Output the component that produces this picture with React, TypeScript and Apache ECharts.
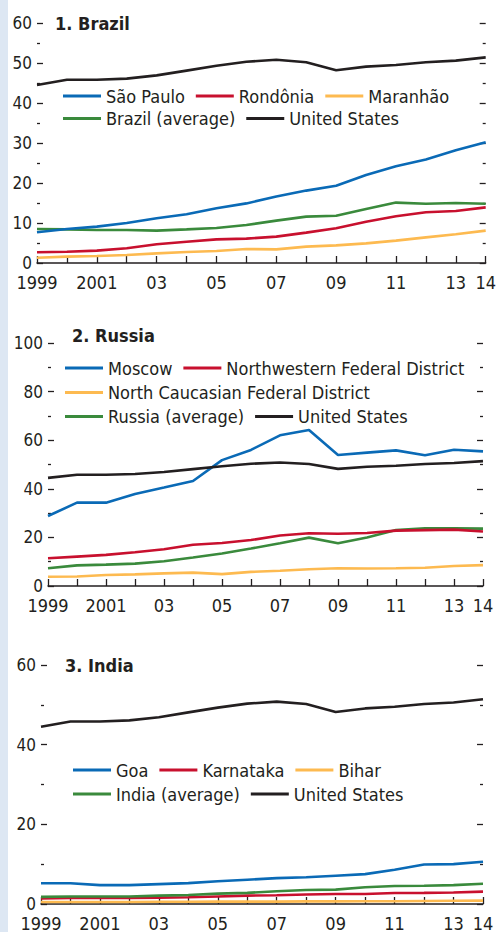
import React, { useEffect, useRef } from 'react';
import * as echarts from 'echarts';

const years = ['1999', '2000', '2001', '2002', '2003', '2004', '2005', '2006', '2007', '2008', '2009', '2010', '2011', '2012', '2013', '2014'];

const unitedStates = [44.5, 45.8, 45.8, 46.1, 46.9, 48.1, 49.3, 50.3, 50.8, 50.2, 48.2, 49.1, 49.5, 50.2, 50.6, 51.4];

const saoPaulo = [7.7, 8.5, 9.1, 10.0, 11.2, 12.2, 13.7, 14.9, 16.6, 18.1, 19.3, 22.0, 24.2, 25.9, 28.2, 30.2];
const rondonia = [2.7, 2.8, 3.1, 3.7, 4.7, 5.3, 5.9, 6.1, 6.6, 7.6, 8.7, 10.3, 11.7, 12.7, 13.0, 13.9];
const maranhao = [1.3, 1.6, 1.75, 2.0, 2.4, 2.75, 3.0, 3.5, 3.4, 4.1, 4.4, 4.9, 5.6, 6.4, 7.2, 8.1];
const brazilAvg = [8.5, 8.4, 8.25, 8.25, 8.1, 8.4, 8.75, 9.5, 10.6, 11.6, 11.8, 13.5, 15.1, 14.8, 15.0, 14.8];

const moscow = [28.8, 34.3, 34.3, 37.9, 40.5, 43.2, 51.8, 56.0, 62.0, 64.2, 53.9, 54.9, 55.8, 53.8, 56.1, 55.4];
const northwestern = [11.4, 12.1, 12.8, 13.9, 15.1, 17.0, 17.7, 18.9, 20.8, 21.7, 21.5, 21.8, 22.8, 23.0, 23.2, 22.4];
const northCaucasian = [3.8, 3.9, 4.5, 4.8, 5.2, 5.5, 4.9, 5.8, 6.3, 6.9, 7.3, 7.2, 7.3, 7.5, 8.2, 8.6];
const russiaAvg = [7.3, 8.5, 8.8, 9.2, 10.2, 11.7, 13.4, 15.4, 17.6, 19.9, 17.6, 20.0, 23.0, 23.7, 23.7, 23.6];

const goa = [5.2, 5.2, 4.75, 4.75, 5.0, 5.25, 5.7, 6.1, 6.5, 6.7, 7.1, 7.5, 8.6, 9.9, 10.0, 10.6];
const karnataka = [1.4, 1.5, 1.5, 1.5, 1.6, 1.7, 1.9, 2.1, 2.2, 2.4, 2.5, 2.5, 2.75, 2.8, 2.9, 3.1];
const bihar = [0.5, 0.5, 0.5, 0.5, 0.55, 0.55, 0.6, 0.6, 0.6, 0.65, 0.65, 0.7, 0.7, 0.75, 0.8, 0.85];
const indiaAvg = [1.8, 1.9, 1.9, 1.9, 2.1, 2.25, 2.6, 2.8, 3.2, 3.5, 3.6, 4.2, 4.5, 4.6, 4.75, 5.1];

const panelTitles = ['1. Brazil', '2. Russia', '3. India'];
const yMax = [60, 100, 60];
const yInterval = [10, 20, 20];

const COLORS = {
  blue: '#0a6ab6',
  red: '#c8102e',
  yellow: '#fdba50',
  green: '#3a8a3c',
  black: '#231f20',
};
const FONT = "'Liberation Sans Narrow', 'Arial Narrow', 'DejaVu Sans Condensed', sans-serif";
const TEXT = '#231f20';

export default function App() {
  const ref = useRef<HTMLDivElement>(null);
  useEffect(() => {
    document.body.style.margin = '0';
    const chart = echarts.init(ref.current!, undefined, { renderer: 'svg' });

    const grids = [
      { left: 37, top: 23, width: 451, height: 240 },
      { left: 48, top: 343, width: 435, height: 243 },
      { left: 41, top: 665, width: 442, height: 240 },
    ];

    const xAxes = grids.map((_, i) => ({
      type: 'category',
      gridIndex: i,
      data: years,
      boundaryGap: false,
      axisLine: { lineStyle: { color: TEXT, width: 1.5 } },
      axisTick: { inside: true, length: 7, interval: 0, lineStyle: { color: TEXT, width: 1.3 } },
      axisLabel: {
        interval: (idx: number) => idx % 2 === 0 || idx === 15,
        formatter: (v: string) => (v === '1999' || v === '2001' ? v : v.slice(2)),
        color: TEXT,
        fontSize: 18,
        lineHeight: 18,
        fontFamily: FONT,
        margin: 10,
      },
      splitLine: { show: false },
    }));

    const yAxes: any[] = [];
    grids.forEach((_, i) => {
      ['left', 'right'].forEach((pos) => {
        yAxes.push({
          type: 'value',
          gridIndex: i,
          position: pos,
          min: 0,
          max: yMax[i],
          interval: yInterval[i],
          axisLine: { show: false },
          axisTick: { show: true, inside: true, length: 6, lineStyle: { color: TEXT, width: 1.3 } },
          minorTick: { show: true, splitNumber: 2, length: 3, lineStyle: { color: TEXT, width: 1.3 } },
          axisLabel: {
            show: pos === 'left',
            color: TEXT,
            fontSize: 17,
            lineHeight: 17,
            fontFamily: FONT,
            margin: 5,
          },
          splitLine: { show: false },
        });
      });
    });

    const mk = (name: string, data: number[], color: string, i: number) => ({
      name,
      type: 'line',
      xAxisIndex: i,
      yAxisIndex: i * 2,
      data,
      symbol: 'none',
      lineStyle: { color, width: 2.6 },
      itemStyle: { color },
      z: 3,
    });

    const series = [
      mk('Maranhão', maranhao, COLORS.yellow, 0),
      mk('Rondônia', rondonia, COLORS.red, 0),
      mk('Brazil (average)', brazilAvg, COLORS.green, 0),
      mk('São Paulo', saoPaulo, COLORS.blue, 0),
      mk('United States', unitedStates, COLORS.black, 0),
      mk('North Caucasian Federal District', northCaucasian, COLORS.yellow, 1),
      mk('Russia (average)', russiaAvg, COLORS.green, 1),
      mk('Northwestern Federal District', northwestern, COLORS.red, 1),
      mk('Moscow', moscow, COLORS.blue, 1),
      mk('United States', unitedStates, COLORS.black, 1),
      mk('Bihar', bihar, COLORS.yellow, 2),
      mk('Karnataka', karnataka, COLORS.red, 2),
      mk('India (average)', indiaAvg, COLORS.green, 2),
      mk('Goa', goa, COLORS.blue, 2),
      mk('United States', unitedStates, COLORS.black, 2),
    ];

    const leg = (left: number, centerY: number, data: string[]) => ({
      left,
      top: centerY - 10,
      orient: 'horizontal',
      padding: 0,
      icon: 'rect',
      itemWidth: 38,
      itemHeight: 3,
      itemGap: 11,
      selectedMode: false,
      textStyle: { fontSize: 18, fontFamily: FONT, color: TEXT, lineHeight: 20, padding: [0, 0, 0, 0] },
      data,
    });

    const legends = [
      leg(63, 96, ['São Paulo', 'Rondônia', 'Maranhão']),
      leg(63, 118.5, ['Brazil (average)', 'United States']),
      leg(65, 368, ['Moscow', 'Northwestern Federal District']),
      leg(65, 392.5, ['North Caucasian Federal District']),
      leg(65, 416.5, ['Russia (average)', 'United States']),
      leg(73, 770, ['Goa', 'Karnataka', 'Bihar']),
      leg(73, 794, ['India (average)', 'United States']),
    ];

    const titlePos = [
      { x: 55, y: 23.5 },
      { x: 72, y: 335.5 },
      { x: 65, y: 665.5 },
    ];

    chart.setOption({
      animation: false,
      backgroundColor: '#ffffff',
      grid: grids,
      xAxis: xAxes,
      yAxis: yAxes,
      legend: legends,
      series,
      graphic: [
        { type: 'rect', left: 0, top: 0, shape: { width: 8, height: 932 }, style: { fill: '#dde7f3' }, silent: true },
        ...panelTitles.map((t, i) => ({
          type: 'text',
          x: titlePos[i].x,
          y: titlePos[i].y,
          style: {
            text: t,
            fill: TEXT,
            font: `bold 18px ${FONT}`,
            verticalAlign: 'middle',
          },
        })),
      ],
    });
    return () => chart.dispose();
  }, []);
  return <div ref={ref} style={{ width: 499, height: 932 }} />;
}
